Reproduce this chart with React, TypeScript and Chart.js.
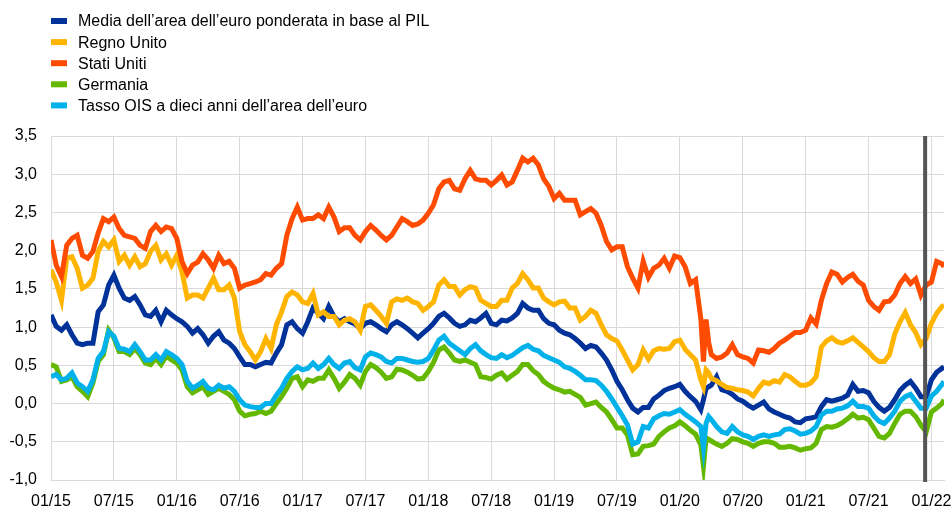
import React, { useEffect, useRef } from "react";
import { Chart, registerables } from "chart.js";

Chart.register(...registerables);

// x positions: months elapsed since January 2015
const months = [
  0, 0.5, 1, 1.5, 2, 2.5, 3, 3.5, 4, 4.5,
  5, 5.5, 6, 6.5, 7, 7.5, 8, 8.5, 9, 9.5,
  10, 10.5, 11, 11.5, 12, 12.5, 13, 13.5, 14, 14.5,
  15, 15.5, 16, 16.5, 17, 17.5, 18, 18.5, 19, 19.5,
  20, 20.5, 21, 21.5, 22, 22.5, 23, 23.5, 24, 24.5,
  25, 25.5, 26, 26.5, 27, 27.5, 28, 28.5, 29, 29.5,
  30, 30.5, 31, 31.5, 32, 32.5, 33, 33.5, 34, 34.5,
  35, 35.5, 36, 36.5, 37, 37.5, 38, 38.5, 39, 39.5,
  40, 40.5, 41, 41.5, 42, 42.5, 43, 43.5, 44, 44.5,
  45, 45.5, 46, 46.5, 47, 47.5, 48, 48.5, 49, 49.5,
  50, 50.5, 51, 51.5, 52, 52.5, 53, 53.5, 54, 54.5,
  55, 55.5, 56, 56.5, 57, 57.5, 58, 58.5, 59, 59.5,
  60, 60.5, 61, 61.5, 62, 62.25, 62.5, 62.75, 63, 63.5,
  64, 64.5, 65, 65.5, 66, 66.5, 67, 67.5, 68, 68.5,
  69, 69.5, 70, 70.5, 71, 71.5, 72, 72.5, 73, 73.5,
  74, 74.5, 75, 75.5, 76, 76.5, 77, 77.5, 78, 78.5,
  79, 79.5, 80, 80.5, 81, 81.5, 82, 82.5, 83, 83.5,
  84, 84.5, 85, 85.2,
];

const euroArea = [
  1.16, 1.01, 0.96, 1.03, 0.90, 0.79, 0.77, 0.79, 0.79, 1.20,
  1.29, 1.55, 1.68, 1.51, 1.38, 1.35, 1.40, 1.29, 1.16, 1.14,
  1.22, 1.07, 1.22, 1.16, 1.11, 1.07, 1.01, 0.92, 0.98, 0.90,
  0.79, 0.88, 0.94, 0.83, 0.79, 0.72, 0.61, 0.51, 0.51, 0.48,
  0.51, 0.54, 0.53, 0.66, 0.77, 1.03, 1.07, 0.98, 0.92, 1.07,
  1.25, 1.18, 1.11, 1.27, 1.14, 1.07, 1.11, 1.07, 1.04, 0.98,
  1.05, 1.07, 1.03, 0.98, 0.94, 1.03, 1.07, 1.03, 0.98, 0.92,
  0.86, 0.92, 0.98, 1.05, 1.14, 1.18, 1.12, 1.05, 1.01, 1.03,
  1.09, 1.07, 1.12, 1.18, 1.05, 1.03, 1.09, 1.08, 1.12, 1.18,
  1.31, 1.25, 1.22, 1.22, 1.11, 1.05, 1.03, 0.96, 0.92, 0.90,
  0.85, 0.79, 0.72, 0.76, 0.74, 0.66, 0.57, 0.44, 0.29, 0.18,
  0.05, -0.06, -0.11, -0.05, -0.05, 0.06, 0.11, 0.17, 0.20, 0.22,
  0.25, 0.16, 0.09, 0.03, -0.08, 0.05, 0.20, 0.22, 0.24, 0.35,
  0.18, 0.16, 0.12, 0.06, 0.03, -0.02, -0.06, -0.02, 0.02, -0.07,
  -0.11, -0.14, -0.17, -0.19, -0.24, -0.25, -0.20, -0.19, -0.17, -0.04,
  0.05, 0.03, 0.05, 0.07, 0.11, 0.25, 0.16, 0.17, 0.14, 0.03,
  -0.05, -0.10, -0.05, 0.05, 0.17, 0.24, 0.29, 0.20, 0.09, 0.09,
  0.31, 0.41, 0.46, 0.48,
];

const unitedKingdom = [
  1.75, 1.59, 1.35, 1.90, 1.92, 1.77, 1.51, 1.55, 1.64, 1.99,
  2.12, 2.05, 2.14, 1.86, 1.94, 1.81, 1.92, 1.79, 1.83, 1.99,
  2.07, 1.88, 1.96, 1.81, 1.94, 1.72, 1.38, 1.42, 1.42, 1.38,
  1.51, 1.64, 1.49, 1.49, 1.55, 1.38, 0.94, 0.77, 0.68, 0.57,
  0.68, 0.85, 0.72, 1.03, 1.20, 1.40, 1.46, 1.42, 1.33, 1.31,
  1.44, 1.16, 1.20, 1.14, 1.14, 1.03, 1.09, 1.11, 1.07, 0.96,
  1.27, 1.29, 1.22, 1.14, 1.05, 1.33, 1.37, 1.35, 1.38, 1.33,
  1.31, 1.22, 1.27, 1.33, 1.55, 1.62, 1.53, 1.53, 1.42, 1.49,
  1.53, 1.51, 1.35, 1.31, 1.27, 1.27, 1.35, 1.35, 1.51, 1.57,
  1.70, 1.62, 1.51, 1.51, 1.38, 1.33, 1.29, 1.33, 1.34, 1.25,
  1.25, 1.09, 1.14, 1.22, 1.18, 1.03, 0.90, 0.85, 0.82, 0.70,
  0.57, 0.44, 0.51, 0.70, 0.58, 0.69, 0.72, 0.71, 0.72, 0.81,
  0.83, 0.71, 0.64, 0.57, 0.31, 0.22, 0.44, 0.40, 0.33, 0.30,
  0.25, 0.21, 0.20, 0.18, 0.17, 0.15, 0.10, 0.20, 0.28, 0.26,
  0.30, 0.28, 0.38, 0.35, 0.29, 0.24, 0.24, 0.27, 0.35, 0.74,
  0.82, 0.86, 0.81, 0.79, 0.82, 0.86, 0.80, 0.74, 0.68, 0.60,
  0.55, 0.55, 0.64, 0.91, 1.07, 1.19, 1.03, 0.93, 0.77, 0.85,
  1.05, 1.18, 1.27, 1.29,
];

const unitedStates = [
  2.14, 1.81, 1.66, 2.07, 2.16, 2.20, 1.94, 1.90, 1.99, 2.23,
  2.42, 2.38, 2.44, 2.29, 2.20, 2.18, 2.16, 2.07, 2.03, 2.25,
  2.33, 2.25, 2.31, 2.29, 2.16, 1.86, 1.70, 1.81, 1.85, 1.96,
  1.88, 1.77, 1.94, 1.83, 1.86, 1.77, 1.51, 1.55, 1.57, 1.59,
  1.62, 1.70, 1.68, 1.77, 1.83, 2.20, 2.42, 2.57, 2.40, 2.42,
  2.42, 2.47, 2.42, 2.57, 2.44, 2.25, 2.30, 2.30, 2.20, 2.14,
  2.25, 2.33, 2.27, 2.20, 2.14, 2.20, 2.31, 2.42, 2.38, 2.33,
  2.35, 2.40, 2.49, 2.60, 2.81, 2.90, 2.92, 2.81, 2.79, 2.94,
  3.05, 2.94, 2.92, 2.92, 2.86, 2.92, 2.99, 2.86, 2.90, 3.05,
  3.21, 3.16, 3.21, 3.12, 2.94, 2.84, 2.68, 2.75, 2.66, 2.66,
  2.66, 2.47, 2.51, 2.55, 2.49, 2.33, 2.12, 2.01, 2.05, 2.05,
  1.79, 1.64, 1.51, 1.86, 1.65, 1.77, 1.81, 1.90, 1.77, 1.93,
  1.91, 1.79, 1.57, 1.62, 1.11, 0.55, 1.10, 0.80, 0.64, 0.59,
  0.61, 0.66, 0.77, 0.64, 0.61, 0.59, 0.53, 0.70, 0.69, 0.67,
  0.72, 0.79, 0.83, 0.88, 0.93, 0.93, 0.96, 1.12, 1.04, 1.35,
  1.57, 1.72, 1.69, 1.59, 1.65, 1.69, 1.60, 1.55, 1.35, 1.27,
  1.22, 1.33, 1.34, 1.42, 1.57, 1.66, 1.57, 1.63, 1.42, 1.55,
  1.59, 1.86, 1.83, 1.79,
];

const germany = [
  0.51, 0.48, 0.29, 0.31, 0.35, 0.22, 0.16, 0.09, 0.27, 0.55,
  0.64, 0.96, 0.86, 0.68, 0.68, 0.64, 0.72, 0.64, 0.53, 0.51,
  0.59, 0.51, 0.62, 0.57, 0.53, 0.44, 0.22, 0.14, 0.18, 0.22,
  0.12, 0.16, 0.20, 0.16, 0.12, 0.05, -0.10, -0.16, -0.14, -0.13,
  -0.10, -0.13, -0.10, 0.00, 0.09, 0.20, 0.33, 0.35, 0.22, 0.31,
  0.29, 0.33, 0.33, 0.44, 0.33, 0.20, 0.28, 0.38, 0.33, 0.24,
  0.42, 0.51, 0.47, 0.41, 0.33, 0.35, 0.45, 0.44, 0.41, 0.37,
  0.32, 0.33, 0.42, 0.54, 0.70, 0.74, 0.66, 0.57, 0.55, 0.57,
  0.54, 0.51, 0.35, 0.34, 0.32, 0.37, 0.40, 0.32, 0.37, 0.42,
  0.51, 0.51, 0.43, 0.38, 0.29, 0.24, 0.20, 0.18, 0.15, 0.16,
  0.12, 0.08, -0.02, 0.00, 0.02, -0.05, -0.11, -0.21, -0.32, -0.32,
  -0.41, -0.67, -0.66, -0.56, -0.55, -0.53, -0.43, -0.37, -0.32, -0.29,
  -0.24, -0.29, -0.35, -0.40, -0.54, -0.82, -0.45, -0.47, -0.49, -0.53,
  -0.56, -0.52, -0.46, -0.47, -0.50, -0.52, -0.56, -0.52, -0.50, -0.50,
  -0.52, -0.57, -0.57, -0.56, -0.58, -0.61, -0.59, -0.58, -0.52, -0.34,
  -0.30, -0.31, -0.29, -0.25, -0.20, -0.14, -0.19, -0.18, -0.21, -0.32,
  -0.43, -0.45, -0.39, -0.26, -0.14, -0.10, -0.10, -0.17, -0.28, -0.37,
  -0.11, -0.06, 0.00, 0.05,
];

const oisEuroArea = [
  0.35, 0.38, 0.31, 0.33, 0.40, 0.27, 0.22, 0.16, 0.31, 0.59,
  0.68, 0.94, 0.88, 0.72, 0.71, 0.68, 0.77, 0.68, 0.57, 0.57,
  0.64, 0.57, 0.68, 0.64, 0.59, 0.51, 0.29, 0.20, 0.24, 0.29,
  0.20, 0.18, 0.24, 0.20, 0.22, 0.16, 0.05, -0.02, -0.04, -0.05,
  -0.05, 0.00, 0.00, 0.11, 0.20, 0.33, 0.42, 0.48, 0.44, 0.46,
  0.53, 0.46, 0.51, 0.59, 0.51, 0.46, 0.53, 0.55, 0.47, 0.44,
  0.61, 0.66, 0.64, 0.61, 0.55, 0.53, 0.59, 0.59, 0.57, 0.55,
  0.54, 0.55, 0.59, 0.70, 0.83, 0.88, 0.79, 0.74, 0.69, 0.64,
  0.72, 0.77, 0.69, 0.64, 0.60, 0.59, 0.64, 0.60, 0.63, 0.68,
  0.73, 0.76, 0.71, 0.69, 0.63, 0.60, 0.57, 0.54, 0.48, 0.46,
  0.42, 0.37, 0.31, 0.31, 0.30, 0.24, 0.16, 0.06, -0.05, -0.16,
  -0.28, -0.53, -0.50, -0.30, -0.32, -0.20, -0.16, -0.13, -0.14, -0.11,
  -0.08, -0.14, -0.19, -0.24, -0.30, -0.58, -0.26, -0.17, -0.21, -0.30,
  -0.37, -0.39, -0.30, -0.37, -0.41, -0.43, -0.47, -0.43, -0.41, -0.43,
  -0.41, -0.40, -0.34, -0.33, -0.36, -0.40, -0.39, -0.36, -0.30, -0.15,
  -0.10, -0.10, -0.07, -0.06, -0.03, 0.03, -0.04, -0.04, -0.06, -0.16,
  -0.23, -0.26, -0.19, -0.10, 0.03, 0.09, 0.12, 0.03, -0.06, -0.06,
  0.10, 0.16, 0.25, 0.29,
];

const tickMonths = [0, 6, 12, 18, 24, 30, 36, 42, 48, 54, 60, 66, 72, 78, 84];
const tickLabels = [
  "01/15", "07/15", "01/16", "07/16", "01/17", "07/17", "01/18", "07/18",
  "01/19", "07/19", "01/20", "07/20", "01/21", "07/21", "01/22",
];

const seriesNames = [
  "Media dell’area dell’euro ponderata in base al PIL",
  "Regno Unito",
  "Stati Uniti",
  "Germania",
  "Tasso OIS a dieci anni dell’area dell’euro",
];
const seriesColors = ["#003299", "#FFB400", "#FF4B00", "#65B800", "#00B1EA"];
const markerMonth = 83.4;

const FONT = '"Liberation Sans", Arial, sans-serif';

export default function App() {
  const canvasRef = useRef<HTMLCanvasElement | null>(null);

  useEffect(() => {
    const canvas = canvasRef.current;
    if (!canvas) return;
    const allSeries = [euroArea, unitedKingdom, unitedStates, germany, oisEuroArea];

    const legendPlugin = {
      id: "customLegend",
      afterDraw(chart: any) {
        const ctx = chart.ctx;
        ctx.save();
        ctx.font = `16px ${FONT}`;
        ctx.textBaseline = "middle";
        ctx.textAlign = "left";
        seriesNames.forEach((name, i) => {
          const cy = 21 + i * 21.1;
          ctx.fillStyle = seriesColors[i];
          ctx.fillRect(51, cy - 3, 16, 6);
          ctx.fillStyle = "#000000";
          ctx.fillText(name, 78, cy + 1);
        });
        ctx.restore();
      },
    };

    const markerPlugin = {
      id: "markerLine",
      afterDatasetsDraw(chart: any) {
        const ctx = chart.ctx;
        const x = chart.scales.x.getPixelForValue(markerMonth);
        const { top, bottom } = chart.chartArea;
        ctx.save();
        ctx.strokeStyle = "#555555";
        ctx.lineWidth = 4;
        ctx.beginPath();
        ctx.moveTo(x, top);
        ctx.lineTo(x, bottom + 2);
        ctx.stroke();
        ctx.restore();
      },
    };

    const chart = new Chart(canvas, {
      type: "line",
      data: {
        datasets: allSeries.map((vals, i) => ({
          label: seriesNames[i],
          data: vals.map((v, j) => ({ x: months[j], y: v })),
          borderColor: seriesColors[i],
          backgroundColor: seriesColors[i],
          borderWidth: 5,
          pointRadius: 0,
          tension: 0,
          fill: false,
          order: 4 - i,
        })),
      },
      options: {
        animation: false,
        responsive: false,
        devicePixelRatio: 1,
        layout: { padding: { top: 136, right: 7, bottom: 0, left: 0 } },
        plugins: {
          legend: { display: false },
          tooltip: { enabled: false },
        },
        scales: {
          x: {
            type: "linear",
            min: 0,
            max: 85.2,
            afterBuildTicks: (scale: any) => {
              scale.ticks = tickMonths.map((v) => ({ value: v }));
            },
            afterFit: (scale: any) => {
              scale.height = 28;
              scale.paddingLeft = 0;
              scale.paddingRight = 0;
            },
            ticks: {
              autoSkip: false,
              maxRotation: 0,
              padding: 12,
              color: "#000000",
              font: { family: FONT, size: 16 },
              callback: (value: any) => tickLabels[tickMonths.indexOf(Number(value))] ?? "",
            },
            grid: { color: "#d9d9d9", lineWidth: 1, drawTicks: false },
            border: { color: "#d9d9d9", width: 1 },
          },
          y: {
            min: -1,
            max: 3.5,
            afterFit: (scale: any) => {
              scale.width = 51;
            },
            ticks: {
              stepSize: 0.5,
              padding: 14,
              color: "#000000",
              font: { family: FONT, size: 16 },
              callback: (value: any) => Number(value).toFixed(1).replace(".", ","),
            },
            grid: { color: "#d9d9d9", lineWidth: 1, drawTicks: false },
            border: { color: "#d9d9d9", width: 1 },
          },
        },
      },
      plugins: [legendPlugin, markerPlugin],
    });

    return () => chart.destroy();
  }, []);

  return (
    <div style={{ position: "absolute", left: 0, top: 0, width: 951, height: 508, background: "#ffffff" }}>
      <canvas ref={canvasRef} width={951} height={508} style={{ display: "block", width: 951, height: 508 }} />
    </div>
  );
}
